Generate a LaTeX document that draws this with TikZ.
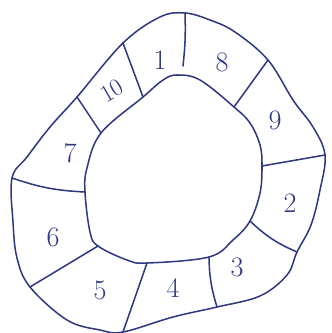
\documentclass[tikz,border=0pt]{standalone}
\usetikzlibrary{calc}
\definecolor{ink}{RGB}{48,56,128}
\begin{document}
\begin{tikzpicture}[x=0.03cm,y=-0.03cm,line width=1.3pt,line cap=round,line join=round,
  ring/.style={draw=ink},
  lbl/.style={text=ink,inner sep=1pt,font=\fontsize{24}{24}\selectfont}]
\useasboundingbox (0,0) rectangle (331,333);
% outer ends of the dividers
\coordinate (o18) at (185,13);
\coordinate (o89) at (268,60);
\coordinate (o92) at (325,155);
\coordinate (o23) at (297,252);
\coordinate (o34) at (217,307);
\coordinate (o45) at (123,332);
\coordinate (o56) at (30,287);
\coordinate (o67) at (12,178);
\coordinate (o710) at (77,97);
\coordinate (o101) at (123,43);
% inner ends of the dividers
\coordinate (i18) at (183,66);
\coordinate (i89) at (234,107);
\coordinate (i92) at (262,166);
\coordinate (i23) at (250,221);
\coordinate (i34) at (209,257);
\coordinate (i45) at (147,263);
\coordinate (i56) at (98,246);
\coordinate (i67) at (85,192);
\coordinate (i710) at (101,133);
\coordinate (i101) at (143,97);
% outer and inner edge of the ring
\draw[ring] plot[smooth cycle,tension=0.6] coordinates {(o67) (27,157) (50,127) (o710) (o101) (160,17) (o18) (210,20) (235,32) (o89) (293,100) (313,127) (o92) (320,190) (311,225) (o23) (287,275) (260,296) (o34) (173,317) (o45) (100,330) (67,320) (o56) (17,258) (13,222)};
\draw[ring] plot[smooth cycle,tension=0.6] coordinates {(177,75) (200,80) (i89) (250,123) (260,145) (i92) (260,193) (i23) (233,240) (i34) (i45) (127,260) (i56) (90,232) (i67) (87,168) (i710) (i101) (163,80)};
% dividers
\foreach \a/\b/\k in {o18/i18/4,o101/i101/0,o710/i710/0,o67/i67/-8,o56/i56/0,o45/i45/0,o34/i34/8,o23/i23/10,o92/i92/0,o89/i89/0}{
  \draw[ring] (\a) to[bend left=\k] (\b);}
% numbers
\foreach \x/\y/\n in {160/60/1,222/62/8,275/120/9,290/203/2,237/267/3,173/288/4,100/290/5,53/237/6,70/153/7}{
  \node[lbl] (n\n) at (\x,\y) {\n};}
\node[lbl,rotate=30,font=\fontsize{21}{21}\selectfont] (n10) at (112,91) {10};
\end{tikzpicture}
\end{document}
